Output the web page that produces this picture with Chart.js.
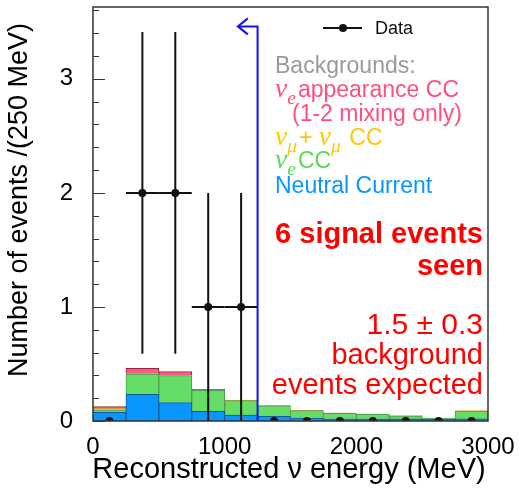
<!DOCTYPE html>
<html lang="en">
<head>
    <meta charset="UTF-8">
    <title>Reconstructed neutrino energy</title>
    <script src="https://cdn.jsdelivr.net/npm/chart.js"></script>
    <style>
        body { margin: 0; background: #fff; }
        #wrap { width: 519px; height: 489px; position: relative; }
    </style>
</head>
<body>
    <div id="wrap"><canvas id="stats"></canvas></div>
    <script>
        // bins are 250 MeV wide, centres listed here
        const binCenters = [125, 375, 625, 875, 1125, 1375, 1625, 1875, 2125, 2375, 2625, 2875];
        const neutralCurrent = [0.076, 0.234, 0.161, 0.085, 0.053, 0.040, 0.026, 0.020, 0.020, 0.018, 0.016, 0.018];
        const nueCC = [0.020, 0.178, 0.237, 0.184, 0.125, 0.092, 0.065, 0.047, 0.038, 0.026, 0.007, 0.070];
        const numuCC = [0.012, 0.003, 0.003, 0.002, 0.001, 0.001, 0.001, 0.001, 0.001, 0.001, 0.001, 0.001];
        const nueAppearance = [0.018, 0.047, 0.032, 0.007, 0.003, 0.002, 0.002, 0.001, 0.001, 0.001, 0.001, 0.001];

        const dataCounts = [0, 2, 2, 1, 1, 0, 0, 0, 0, 0, 0, 0];
        const dataErrors = [0, 1.41, 1.41, 1, 1, 0, 0, 0, 0, 0, 0, 0];
        const binHalfWidth = 125;

        const xTickValues = [0, 1000, 2000, 3000];
        const yTickValues = [0, 1, 2, 3];
        const yMinorStep = 0.2;

        // signal region cut
        const cutEnergy = 1250;
        const cutArrowEnd = 1100;
        const cutHeight = 3.46;

        const SANS = '"Liberation Sans", Arial, sans-serif';
        const SERIF = '"Liberation Serif", serif';

        function toPoints(values) {
            return binCenters.map((x, i) => ({ x: x, y: values[i] }));
        }

        function histDataset(label, values, color, edge) {
            return {
                type: "bar",
                label: label,
                data: toPoints(values),
                stack: "bg",
                backgroundColor: color,
                borderColor: edge,
                borderWidth: 1,
                barPercentage: 1,
                categoryPercentage: 1,
                order: 2
            };
        }

        function drawRich(ctx, x, y, parts, size, color) {
            ctx.fillStyle = color;
            ctx.textAlign = "left";
            ctx.textBaseline = "alphabetic";
            const base = y + size * 0.36;
            for (const p of parts) {
                let fs = size;
                if (p.greek) fs = size * 1.2;
                if (p.sub) fs = size * 0.85;
                ctx.font = (p.greek ? "italic " : "") + fs + "px " + (p.greek ? SERIF : SANS);
                ctx.fillText(p.t, x, base + (p.sub ? size * 0.28 : 0));
                x += ctx.measureText(p.t).width + (p.sub ? 2 : 0);
            }
        }

        function noPadding(scale) {
            scale.paddingTop = 0;
            scale.paddingBottom = 0;
            scale.paddingLeft = 0;
            scale.paddingRight = 0;
        }

        const overlay = {
            id: "overlay",
            beforeDatasetDraw(chart, args) {
                if (chart.data.datasets[args.index].label !== "Data") return;
                const { ctx, scales: { x, y } } = chart;
                ctx.save();
                ctx.strokeStyle = "#111";
                ctx.lineWidth = 2;
                binCenters.forEach((c, i) => {
                    if (dataCounts[i] <= 0) return;
                    const px = x.getPixelForValue(c);
                    const py = y.getPixelForValue(dataCounts[i]);
                    ctx.beginPath();
                    ctx.moveTo(px, y.getPixelForValue(Math.max(0, dataCounts[i] - dataErrors[i])));
                    ctx.lineTo(px, y.getPixelForValue(dataCounts[i] + dataErrors[i]));
                    ctx.moveTo(x.getPixelForValue(c - binHalfWidth), py);
                    ctx.lineTo(x.getPixelForValue(c + binHalfWidth), py);
                    ctx.stroke();
                });
                ctx.restore();
            },
            afterDatasetsDraw(chart) {
                const { ctx, chartArea: { left, right, top, bottom }, scales: { x, y } } = chart;
                ctx.save();
                // arrow head of the cut line
                const ax = x.getPixelForValue(cutArrowEnd);
                const ay = y.getPixelForValue(cutHeight);
                ctx.strokeStyle = "#1010f0";
                ctx.lineWidth = 2;
                ctx.beginPath();
                ctx.moveTo(ax + 10, ay - 8);
                ctx.lineTo(ax, ay);
                ctx.lineTo(ax + 10, ay + 8);
                ctx.stroke();

                // frame and ticks
                ctx.strokeStyle = "#333";
                ctx.lineWidth = 1.5;
                ctx.strokeRect(left, top, right - left, bottom - top);
                ctx.lineWidth = 1;
                ctx.beginPath();
                for (let v = 0; v <= y.max + 1e-9; v += yMinorStep) {
                    const major = Math.abs(v - Math.round(v)) < 1e-6;
                    const py = Math.round(y.getPixelForValue(v)) + 0.5;
                    ctx.moveTo(left, py);
                    ctx.lineTo(left + (major ? 12 : 6), py);
                }
                ctx.stroke();
                ctx.restore();
            },
            afterDraw(chart) {
                const { ctx } = chart;
                ctx.save();
                // axis titles
                ctx.fillStyle = "#000";
                ctx.textAlign = "center";
                ctx.textBaseline = "middle";
                ctx.font = "29px " + SANS;
                ctx.fillText("Reconstructed \u03bd energy (MeV)", 289, 470);
                ctx.translate(20, 200);
                ctx.rotate(-Math.PI / 2);
                ctx.font = "27px " + SANS;
                ctx.fillText("Number of events /(250 MeV)", 0, 0);
                ctx.restore();

                ctx.save();
                // legend: data marker
                ctx.strokeStyle = "#111";
                ctx.lineWidth = 2;
                ctx.beginPath();
                ctx.moveTo(323, 28);
                ctx.lineTo(362, 28);
                ctx.stroke();
                ctx.fillStyle = "#111";
                ctx.beginPath();
                ctx.arc(343, 28, 4, 0, Math.PI * 2);
                ctx.fill();
                ctx.font = "18px " + SANS;
                ctx.textAlign = "left";
                ctx.textBaseline = "middle";
                ctx.fillText("Data", 375, 29);

                const fs = 23;
                drawRich(ctx, 275, 65, [{ t: "Backgrounds:" }], fs, "#9a9a9a");
                drawRich(ctx, 275, 89, [{ t: "\u03bd", greek: true }, { t: "e", greek: true, sub: true }, { t: "appearance CC" }], fs, "#ff4f7f");
                drawRich(ctx, 292, 113, [{ t: "(1-2 mixing only)" }], fs, "#ff4f7f");
                drawRich(ctx, 275, 137, [{ t: "\u03bd", greek: true }, { t: "\u03bc", greek: true, sub: true }, { t: "+ " }, { t: "\u03bd", greek: true }, { t: "\u03bc", greek: true, sub: true }, { t: " CC" }], fs, "#ffc800");
                drawRich(ctx, 275, 160, [{ t: "\u03bd", greek: true }, { t: "e", greek: true, sub: true }, { t: "CC" }], fs, "#55dd55");
                drawRich(ctx, 275, 185, [{ t: "Neutral Current" }], fs, "#0a96ff");

                // red summary text
                ctx.fillStyle = "#ff0000";
                ctx.textAlign = "right";
                ctx.textBaseline = "middle";
                ctx.font = "bold 29px " + SANS;
                ctx.fillText("6 signal events", 483, 235);
                ctx.fillText("seen", 483, 267);
                ctx.font = "30px " + SANS;
                ctx.fillText("1.5 \u00b1 0.3", 483, 326);
                ctx.font = "29px " + SANS;
                ctx.fillText("background", 483, 356);
                ctx.fillText("events expected", 483, 386);
                ctx.restore();
            }
        };

        const ctx = document.getElementById("stats").getContext("2d");
        const chart = new Chart(ctx, {
            type: "bar",
            data: {
                datasets: [
                    histDataset("Neutral Current", neutralCurrent, "#0a96ff", "#0b5c99"),
                    histDataset("nue CC", nueCC, "#66dd66", "#4f9f4f"),
                    histDataset("numu CC", numuCC, "#ffc800", "#c99a00"),
                    histDataset("nue appearance CC", nueAppearance, "#ff5a85", "#8a2a40"),
                    {
                        type: "scatter",
                        label: "Data",
                        data: toPoints(dataCounts),
                        pointRadius: 4,
                        pointHoverRadius: 4,
                        backgroundColor: "#111",
                        borderWidth: 0,
                        order: 1
                    },
                    {
                        type: "line",
                        label: "Cut",
                        data: [
                            { x: cutEnergy, y: 0 },
                            { x: cutEnergy, y: cutHeight },
                            { x: cutArrowEnd, y: cutHeight }
                        ],
                        borderColor: "#1010f0",
                        borderWidth: 2,
                        pointRadius: 0,
                        fill: false,
                        tension: 0,
                        order: 0
                    }
                ]
            },
            options: {
                responsive: true,
                maintainAspectRatio: false,
                animation: false,
                layout: { autoPadding: false, padding: { top: 7, right: 31, left: 0, bottom: 0 } },
                plugins: {
                    legend: { display: false },
                    tooltip: { enabled: false }
                },
                scales: {
                    x: {
                        type: "linear",
                        min: 0,
                        max: 3000,
                        offset: false,
                        grid: { display: false },
                        border: { display: false },
                        afterBuildTicks: (scale) => { scale.ticks = xTickValues.map(v => ({ value: v })); },
                        afterFit: (scale) => { scale.height = 68; noPadding(scale); },
                        ticks: {
                            maxRotation: 0,
                            autoSkip: false,
                            padding: 4,
                            color: "#000",
                            font: { family: SANS, size: 24 },
                            callback: (v) => String(v)
                        }
                    },
                    y: {
                        min: 0,
                        max: 3.63,
                        grid: { display: false },
                        border: { display: false },
                        afterBuildTicks: (scale) => { scale.ticks = yTickValues.map(v => ({ value: v })); },
                        afterFit: (scale) => { scale.width = 93; noPadding(scale); },
                        ticks: {
                            padding: 12,
                            color: "#000",
                            font: { family: SANS, size: 24 },
                            callback: (v) => String(v)
                        }
                    }
                }
            },
            plugins: [overlay]
        });
    </script>
</body>
</html>
